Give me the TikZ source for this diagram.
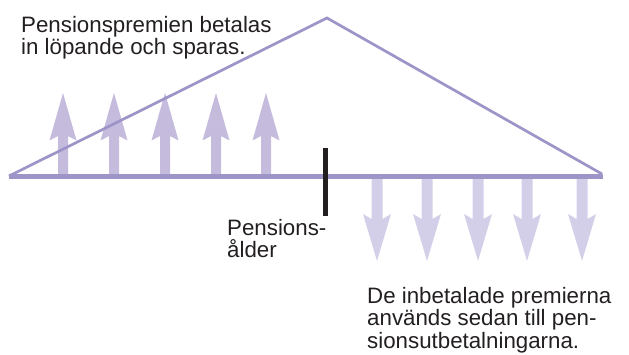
\documentclass[tikz,border=0pt]{standalone}
\usepackage{fontspec}
\setmainfont{Liberation Sans}
\definecolor{axislila}{HTML}{9D94C8}
\definecolor{uplila}{HTML}{C4BBDD}
\definecolor{downlila}{HTML}{D4CFE9}
\definecolor{inkblack}{HTML}{231F20}
\tikzset{
  label text/.style={anchor=north west, inner sep=0pt, align=left, text=inkblack,
    font=\fontsize{22.3}{22.5}\selectfont},
}

\begin{document}
\begin{tikzpicture}[x=1pt, y=-1pt]
    \useasboundingbox (0,0) rectangle (629,355);

    % inbetalningar
    \foreach \x in {63,114,165,216,266}
        \fill[uplila] (\x-5,177) -- (\x-5,136) -- (\x-13.5,140.5) -- (\x,93)
            -- (\x+13.5,140.5) -- (\x+5,136) -- (\x+5,177) -- cycle;

    % utbetalningar
    \foreach \x in {377,427,478,527,582}
        \fill[downlila] (\x-5.5,178) -- (\x-5.5,219) -- (\x-14,214) -- (\x,261)
            -- (\x+14,214) -- (\x+5.5,219) -- (\x+5.5,178) -- cycle;

    \draw[axislila, line width=2.7pt, line join=miter] (9,176) -- (327,18) -- (602,174);
    \draw[axislila, line width=5pt] (9,176.5) -- (603,176.5);
    \draw[inkblack, line width=5pt] (325,148) -- (325,216);

    \node[label text] (spara) at (21,16) {Pensionspremien betalas\\in löpande och sparas.};
    \node[label text] (alder) at (227,219) {Pensions-\\ålder};
    \node[label text] (utbet) at (367,287) {De inbetalade premierna\\används sedan till pen-\\sionsutbetalningarna.};

\end{tikzpicture}
\end{document}
